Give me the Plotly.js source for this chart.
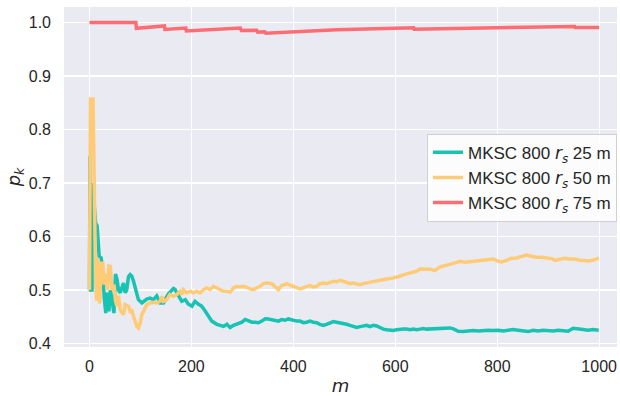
<!DOCTYPE html>
<html>
<head>
<meta charset="utf-8">
<script src="https://cdn.plot.ly/plotly-3.0.1.min.js"></script>
<style>html,body{margin:0;padding:0;background:#fff;}#chart{width:620px;height:396px;}</style>
</head>
<body>
<div id="chart"></div>
<script>
// Series: MKSC 800 r_s 25 m (teal)
const tealM = [0,1,2,5,6,9,12,15,19,23,26,29,32,35,38,41,44,48,51,54,57,60.2,66.7,70,73,76.5,79.8,83,86.3,89.6,96,102.7,106,112.5,119,125.6,132,138.6,145,155,164.8,168,171.3,177.8,181,188,194,201,207,214,220,227,233.7,240,250,256,263,269.6,276,282.5,289,299,305.6,312,318.6,325,331.7,338,344.8,351,357.6,364,371,377,383.7,390,394,400,406.6,413,419.7,426,432.7,439,445.8,452,459,465,472,478.5,485,491.6,498,504.6,511,517.7,524.3,531,537,544,550,557,563.5,570,576.5,583,589.6,596,603,609,616,622.3,629,635.4,642,648.7,655,661.5,668,681,694,707,714,723.6,733,743,753,763,772.6,782,792,802,812,821.6,831,841,851,861,870.6,880,890,900,910,919.6,929,939,949,959,968.6,978,988,999];
const tealP = [0.5,0.75,0.5,0.5,0.70,0.66,0.625,0.62,0.563,0.56,0.532,0.485,0.457,0.495,0.46,0.50,0.485,0.457,0.53,0.52,0.50,0.495,0.513,0.495,0.50,0.525,0.529,0.526,0.517,0.505,0.482,0.476,0.479,0.483,0.485,0.482,0.489,0.476,0.476,0.493,0.503,0.501,0.495,0.485,0.479,0.482,0.4735,0.470,0.479,0.4735,0.470,0.461,0.451,0.442,0.436,0.434,0.432,0.436,0.430,0.434,0.436,0.440,0.445,0.442,0.440,0.440,0.439,0.442,0.4465,0.446,0.445,0.443,0.442,0.445,0.4435,0.446,0.445,0.443,0.442,0.442,0.439,0.440,0.442,0.440,0.439,0.436,0.434,0.436,0.439,0.441,0.440,0.439,0.4375,0.436,0.434,0.4317,0.430,0.4317,0.433,0.434,0.4317,0.434,0.433,0.430,0.427,0.426,0.425,0.4243,0.426,0.427,0.427,0.427,0.426,0.427,0.426,0.427,0.428,0.427,0.4274,0.4286,0.4286,0.4293,0.4274,0.423,0.4224,0.4237,0.4243,0.4237,0.4249,0.4249,0.4243,0.4249,0.4237,0.4249,0.4262,0.4249,0.4237,0.4224,0.4249,0.4237,0.4249,0.4243,0.4237,0.4249,0.4237,0.423,0.4286,0.428,0.4262,0.4249,0.4262,0.4249];

// Series: MKSC 800 r_s 50 m (yellow)
const yellowM = [0,2,7,9,10,12,14,16,18,20,23,26,29,32,35,38,41,44,48,51,54,57,60.2,66.7,70,76.5,79.8,83,86.3,89.6,93,96,99.4,102.7,106,109,112.5,119,125.6,132,138.6,142,145,151.7,158,164.8,171.3,177.8,181,184.4,191,197.5,204,210.5,217,223.6,230,236.7,243,249.7,256,262.8,269.4,276,282.4,289,295.5,302,308.6,315,321.6,328,334.7,341,347.8,357.6,364,370.6,377,387,393.5,400,406.6,413,419.7,426,432.7,439,445.8,452,459,465.4,472,478.5,485,491.6,498,504.6,511,517.7,524,530.8,537,544,550,557,563.5,570,576.5,583,589.6,596,602.7,609,615.7,622,628.8,635,642,648.4,655,661.5,668,677.8,687.6,697.4,707,717,727,736.6,746.4,756,766,776,785.6,792,798.7,808.5,818,828,838,847.7,857.5,867,877,887,896.8,906.6,913,923,932.7,942.5,952,962,972,981.7,991.5,999];
const yellowP = [0.5,0.857,0.857,0.70,0.60,0.52,0.48,0.56,0.50,0.475,0.55,0.55,0.51,0.53,0.50,0.545,0.544,0.50,0.51,0.48,0.47,0.49,0.4635,0.454,0.4728,0.4697,0.4603,0.4635,0.451,0.4416,0.432,0.4292,0.4386,0.454,0.4603,0.4666,0.4728,0.476,0.4772,0.476,0.479,0.4885,0.479,0.4822,0.4916,0.4885,0.4916,0.4978,0.4916,0.5008,0.4947,0.4978,0.4947,0.4978,0.4947,0.5008,0.504,0.5008,0.507,0.504,0.5008,0.4978,0.4978,0.496,0.504,0.507,0.5058,0.507,0.5052,0.5021,0.5008,0.504,0.507,0.512,0.5133,0.512,0.507,0.5008,0.5083,0.512,0.509,0.507,0.504,0.5021,0.504,0.507,0.5083,0.5058,0.507,0.512,0.5133,0.512,0.5145,0.5164,0.5152,0.5183,0.5164,0.5133,0.512,0.5133,0.5114,0.5102,0.512,0.5133,0.5152,0.5164,0.5183,0.5183,0.5195,0.5208,0.5214,0.5227,0.524,0.5258,0.5283,0.5302,0.5314,0.5339,0.5352,0.5395,0.5395,0.5395,0.539,0.5363,0.5432,0.5457,0.5475,0.5507,0.5537,0.5519,0.5531,0.5544,0.555,0.5556,0.5569,0.5581,0.555,0.5525,0.5556,0.5594,0.56,0.5631,0.5656,0.5631,0.5612,0.5612,0.5606,0.5587,0.5556,0.5581,0.5594,0.5581,0.5581,0.5556,0.555,0.5544,0.5569,0.56];

// Series: MKSC 800 r_s 75 m (red)
const redM = [0,91,92,147,148,189,190,296,298,328,330,344,346,485,636,637,952,953,1000];
const redP = [1.0,1.0,0.989,0.9935,0.987,0.9895,0.984,0.9895,0.985,0.9855,0.982,0.9825,0.980,0.9864,0.990,0.9875,0.9925,0.9905,0.9907];

const seriesNames = [
  'MKSC 800 <span style="font-family:DejaVu Sans"><i>r</i><sub><i>s</i></sub></span> 25 m',
  'MKSC 800 <span style="font-family:DejaVu Sans"><i>r</i><sub><i>s</i></sub></span> 50 m',
  'MKSC 800 <span style="font-family:DejaVu Sans"><i>r</i><sub><i>s</i></sub></span> 75 m'
];
const colors = ['#17c3b2', '#ffcb77', '#fe6d73'];
const xTicks = [0, 200, 400, 600, 800, 1000];
const yTicks = [0.4, 0.5, 0.6, 0.7, 0.8, 0.9, 1.0];
const yTickText = ['0.4', '0.5', '0.6', '0.7', '0.8', '0.9', '1.0'];

const data = [
  {x: tealM, y: tealP, name: seriesNames[0], type: 'scatter', mode: 'lines', line: {color: colors[0], width: 3.5}},
  {x: yellowM, y: yellowP, name: seriesNames[1], type: 'scatter', mode: 'lines', line: {color: colors[1], width: 3.5}},
  {x: redM, y: redP, name: seriesNames[2], type: 'scatter', mode: 'lines', line: {color: colors[2], width: 3.5}}
];

const layout = {
  width: 620, height: 396,
  margin: {l: 64, r: 3, t: 7, b: 49},
  paper_bgcolor: '#ffffff',
  plot_bgcolor: '#eaeaf2',
  font: {family: 'Liberation Sans, Arial, sans-serif', size: 16, color: '#262626'},
  showlegend: true,
  legend: {
    x: 1.0, xanchor: 'right', y: 0.627, yanchor: 'top',
    bgcolor: 'rgba(255,255,255,0.85)', bordercolor: '#d0d0d0', borderwidth: 1,
    font: {size: 17, color: '#262626'}
  },
  xaxis: {
    range: [-50, 1035],
    tickvals: xTicks,
    ticks: '', showline: false, zeroline: false,
    gridcolor: '#ffffff', gridwidth: 1.3,
    ticklabelstandoff: 8,
    title: {text: '<span style="font-family:DejaVu Sans"><i>m</i></span>', font: {size: 18}, standoff: 11}
  },
  yaxis: {
    range: [0.3936, 1.0289],
    tickvals: yTicks, ticktext: yTickText,
    ticks: '', showline: false, zeroline: false,
    gridcolor: '#ffffff', gridwidth: 1.3,
    ticklabelstandoff: 12,
    title: {text: '<span style="font-family:DejaVu Sans"><i>p</i><sub><i>k</i></sub></span>', font: {size: 18}, standoff: 3}
  }
};

Plotly.newPlot('chart', data, layout, {displayModeBar: false, staticPlot: true});
</script>
</body>
</html>
